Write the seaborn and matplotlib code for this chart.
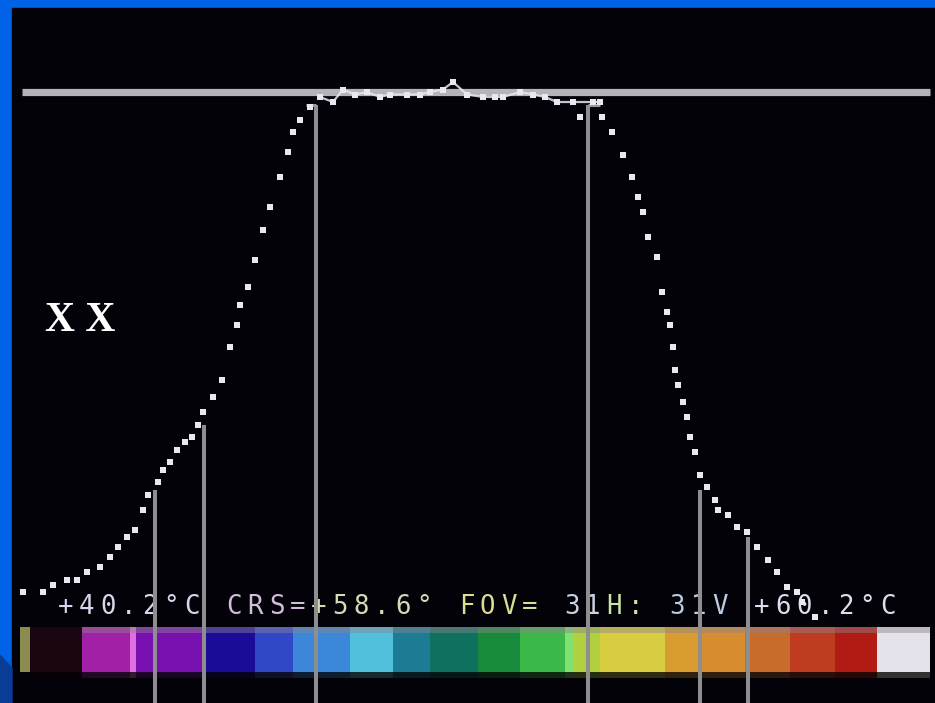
import numpy as np
import pandas as pd
import matplotlib
matplotlib.use("Agg")
import matplotlib.pyplot as plt
import matplotlib.colors as mcolors
import seaborn as sns

# ---------------- data (scan position, temperature in degC) ----------------
left_pos = [23, 43, 53, 67, 77, 87, 100, 110, 118, 127, 135, 143, 148, 158, 163,
            170, 177, 185, 192, 198, 203, 213, 222, 230, 237, 240, 248, 255, 263,
            270, 280, 288, 293, 300, 310, 320]
left_temp = [40.2, 40.2, 40.5, 40.7, 40.7, 41.0, 41.2, 41.6, 42.0, 42.4, 42.7, 43.5,
             44.1, 44.6, 45.1, 45.4, 45.9, 46.2, 46.4, 46.9, 47.4, 48.0, 48.7, 50.0,
             50.9, 51.7, 52.4, 53.5, 54.7, 55.6, 56.8, 57.8, 58.6, 59.1, 59.6, 60.0]

top_pos = [320, 333, 343, 355, 367, 380, 390, 407, 420, 430, 443, 453, 467, 483,
           495, 503, 520, 533, 545, 557, 573, 593, 600]
top_temp = [60.0, 59.8, 60.3, 60.1, 60.2, 60.0, 60.1, 60.1, 60.1, 60.2, 60.3, 60.6,
            60.1, 60.0, 60.0, 60.0, 60.2, 60.1, 60.0, 59.8, 59.8, 59.8, 59.8]

right_pos = [580, 602, 612, 623, 632, 638, 643, 648, 657, 662, 667, 670, 673, 675,
             678, 683, 687, 690, 695, 700, 707, 715, 718, 728, 737, 747, 757, 768,
             777, 787, 797, 802, 815]
right_temp = [59.2, 59.2, 58.6, 57.7, 56.8, 56.0, 55.4, 54.4, 53.6, 52.2, 51.4, 50.9,
              50.0, 49.1, 48.5, 47.8, 47.2, 46.4, 45.8, 44.9, 44.4, 43.9, 43.5, 43.3,
              42.8, 42.6, 42.0, 41.5, 41.0, 40.4, 40.2, 39.8, 39.2]

ref_temp = 60.2
ref_span = [22, 930]

cursor_pos = [155, 204, 316, 588, 700, 748]
cursor_temp = [44.3, 46.9, 59.7, 59.7, 44.3, 42.4]

# palette bar segments
bar_edges = [20, 30, 82, 130, 136, 205, 255, 293, 350, 393, 430, 478, 520, 565,
             573, 600, 665, 700, 745, 790, 835, 877, 930]
bar_colors = ['#8c8c50', '#1a0510', '#a020a8', '#e070e0', '#7810b0', '#1a0c98',
              '#3048c8', '#3c88d8', '#50c0dc', '#1c7c94', '#107060', '#188a3c',
              '#3cb848', '#80e070', '#b0d040', '#d8cc40', '#d89c30', '#d88c30',
              '#c86c2c', '#c03c20', '#b01c14', '#e4e2ea']

status_groups = ["+40.2°C", " ", "CRS=", "+58.6°", " ", "FOV=", " ", "31", "H:",
                 " ", "31V", " ", "+60.2°C"]
status_colors = ['#dcd4ea', '#ffffff', '#d4bcdc', '#d4dcb4', '#ffffff', '#dcdc94',
                 '#ffffff', '#ccd4e4', '#cce4a4', '#ffffff', '#bccce4', '#ffffff',
                 '#e0dcee']

# ---------------- figure ----------------
sns.set_style("dark")
W, H = 935, 703
fig = plt.figure(figsize=(W / 100, H / 100), dpi=100)
fig.patch.set_facecolor('#0062e6')

# decoration axes in pixel coordinates
dec = fig.add_axes([0, 0, 1, 1])
dec.set_xlim(0, W)
dec.set_ylim(H, 0)
dec.axis('off')
dec.add_patch(plt.Rectangle((12, 8), W - 12, H - 8, color='#020208', zorder=0))
dec.add_patch(plt.Polygon([[0, 655], [12, 668], [12, H], [0, H]], color='#0a3c96', zorder=0))

# palette bar
lefts = bar_edges[:-1]
widths = np.diff(bar_edges)
main_c = bar_colors
strip_c = [tuple(0.55 * np.array(mcolors.to_rgb(c)) + 0.45 * np.array([0.55, 0.52, 0.55]))
           if i > 1 else mcolors.to_rgb(c) for i, c in enumerate(bar_colors)]
shadow_c = [tuple(0.22 * np.array(mcolors.to_rgb(c))) for c in bar_colors]
dec.bar(lefts, 39, bottom=633, width=widths, align='edge', color=main_c, linewidth=0, zorder=1)
dec.bar(lefts, 6, bottom=627, width=widths, align='edge', color=strip_c, linewidth=0, zorder=1)
dec.bar(lefts[1:], 6, bottom=672, width=widths[1:], align='edge', color=shadow_c[1:], linewidth=0, zorder=1)

# status text, character-cell by character-cell
pitch = 21.1
cell = 0
for grp, col in zip(status_groups, status_colors):
    for ch in grp:
        if ch != ' ':
            dec.text(55 + pitch * cell + pitch / 2, 607, ch, color=col,
                     fontsize=18.5, family='DejaVu Sans Mono', ha='center',
                     va='center', zorder=3)
        cell += 1

dec.text(45, 331, "X X", color='white', fontsize=30, fontweight='bold',
         family='Liberation Serif', ha='left', va='baseline', zorder=3)

# data axes
ax = fig.add_axes([0, 0, 1, 1])
ax.patch.set_alpha(0)
ax.set_xlim(0, W)
ax.set_ylim(35.76, 63.88)
ax.axis('off')

ax.hlines(ref_temp, ref_span[0], ref_span[1], color='#b4b4b8', linewidth=5.2, zorder=2)
ax.vlines(cursor_pos, 35.76, cursor_temp, color='#8e8e90', linewidth=2.9, zorder=4)
ax.hlines([cursor_temp[2], cursor_temp[3]], [cursor_pos[2] - 10, cursor_pos[3]],
          [cursor_pos[2], cursor_pos[3] + 12], color='#9a9a9c', linewidth=2.2, zorder=4)

df_left = pd.DataFrame({'pos': left_pos, 'temp': left_temp})
df_top = pd.DataFrame({'pos': top_pos, 'temp': top_temp})
df_right = pd.DataFrame({'pos': right_pos, 'temp': right_temp})

dot_color = '#ebe6f2'
sns.lineplot(data=df_top, x='pos', y='temp', ax=ax, color=dot_color, linewidth=1.6,
             alpha=0.85, sort=True, zorder=5)
for d in (df_left, df_top, df_right):
    sns.scatterplot(data=d, x='pos', y='temp', ax=ax, color=dot_color, marker='s',
                    s=16, linewidth=0, zorder=5)

fig.savefig('out.png', dpi=100, facecolor=fig.get_facecolor())
